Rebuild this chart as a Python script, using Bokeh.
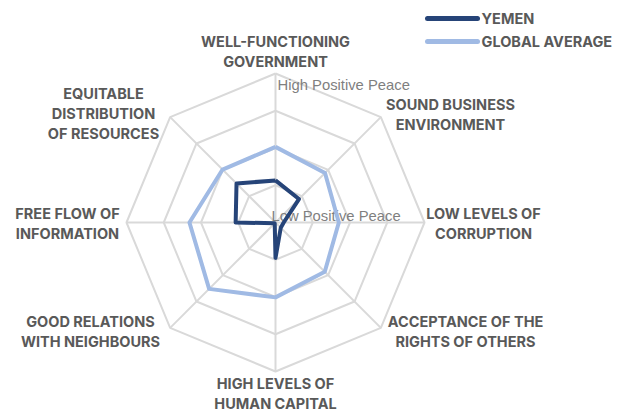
import math
from bokeh.plotting import figure
from bokeh.models import Range1d, ColumnDataSource
from bokeh.core.properties import value
from bokeh.embed import file_html
from bokeh.resources import INLINE

# ---- data ----
categories = [
    "WELL-FUNCTIONING\nGOVERNMENT",
    "SOUND BUSINESS\nENVIRONMENT",
    "LOW LEVELS OF\nCORRUPTION",
    "ACCEPTANCE OF THE\nRIGHTS OF OTHERS",
    "HIGH LEVELS OF\nHUMAN CAPITAL",
    "GOOD RELATIONS\nWITH NEIGHBOURS",
    "FREE FLOW OF\nINFORMATION",
    "EQUITABLE\nDISTRIBUTION\nOF RESOURCES",
]
yemen = [1.13, 0.89, 0.22, 0.20, 0.95, 0.03, 1.07, 1.48]
global_avg = [2.03, 1.88, 1.70, 1.87, 2.01, 2.52, 2.31, 2.01]
ring_levels = [1, 2, 3, 4]
scale_max = 4
series_names = ["YEMEN", "GLOBAL AVERAGE"]

# ---- layout ----
W, H = 632, 412
CX, CY = 275, 222
R = 149
label_pos = [(275, 51), (450, 114), (483, 223), (465, 331),
             (275, 393), (90, 331), (67, 223), (103, 113)]

YEMEN_C = "#264478"
GLOBAL_C = "#A0BAE4"
GRID_C = "#D9D9D9"
TEXT_C = "#595959"

p = figure(width=W, height=H, output_backend="svg", toolbar_location=None,
           x_axis_type=None, y_axis_type=None, min_border=0,
           x_range=Range1d(0, W), y_range=Range1d(H, 0))
p.outline_line_color = None
p.grid.visible = False
p.background_fill_color = "white"
p.border_fill_color = "white"

n = len(categories)
angles = [2 * math.pi * i / n for i in range(n)]


def pt(v, a):
    r = v / scale_max * R
    return CX + r * math.sin(a), CY - r * math.cos(a)


# grid rings
for lv in ring_levels:
    xs = [pt(lv, a)[0] for a in angles] + [pt(lv, angles[0])[0]]
    ys = [pt(lv, a)[1] for a in angles] + [pt(lv, angles[0])[1]]
    p.line(xs, ys, line_color=GRID_C, line_width=2)
# spokes
p.segment(x0=[CX] * n, y0=[CY] * n,
          x1=[pt(scale_max, a)[0] for a in angles],
          y1=[pt(scale_max, a)[1] for a in angles],
          line_color=GRID_C, line_width=2)

# scale labels
p.text(x=[277], y=[84], text=["High Positive Peace"], text_color="#7F7F7F",
       text_font=value("Liberation Sans"), text_font_size="14.8px",
       text_align="left", text_baseline="middle")
p.text(x=[271], y=[215], text=["Low Positive Peace"], text_color="#7F7F7F",
       text_font=value("Liberation Sans"), text_font_size="14.8px",
       text_align="left", text_baseline="middle")

# series
for vals, col in [(global_avg, GLOBAL_C), (yemen, YEMEN_C)]:
    xs = [pt(v, a)[0] for v, a in zip(vals, angles)]
    ys = [pt(v, a)[1] for v, a in zip(vals, angles)]
    xs.append(xs[0]); ys.append(ys[0])
    p.line(xs, ys, line_color=col, line_width=4, line_join="round")

# category labels
src = ColumnDataSource(dict(x=[q[0] for q in label_pos], y=[q[1] for q in label_pos],
                            text=categories))
p.text(x="x", y="y", text="text", source=src, text_color=TEXT_C,
       text_font=value("Inter"), text_font_style="bold", text_font_size="14.5px",
       text_align="center", text_baseline="middle", text_line_height=1.17)

# legend
leg_y = [18, 41]
p.segment(x0=[427, 427], y0=leg_y, x1=[477, 477], y1=leg_y,
          line_color=[YEMEN_C, GLOBAL_C], line_width=5, line_cap="round")
p.text(x=[481, 481], y=leg_y, text=series_names, text_color=TEXT_C,
       text_font=value("Inter"), text_font_style="bold", text_font_size="14.5px",
       text_align="left", text_baseline="middle")

open("out.html", "w").write(file_html(p, INLINE))
